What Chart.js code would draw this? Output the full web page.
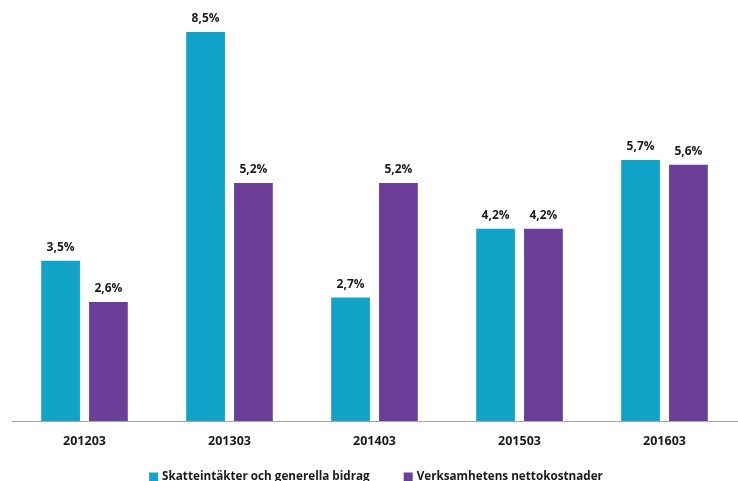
<!DOCTYPE html>
<html>
<head>
<meta charset="utf-8">
<script src="https://cdn.jsdelivr.net/npm/chart.js@4/dist/chart.umd.min.js"></script>
<style>
  html, body { margin: 0; padding: 0; background: #fff; overflow: hidden; }
</style>
</head>
<body>
<canvas id="chart" width="738" height="481"></canvas>
<script>
// Periods and yearly change (%) for each series
const periods = ["201203", "201303", "201403", "201503", "201603"];
const skatteintakter = [3.5, 8.5, 2.7, 4.2, 5.7];
const nettokostnader = [2.6, 5.2, 5.2, 4.2, 5.6];

const FONT = "'Open Sans', sans-serif";
const TEXT = "#1a1a1a";

// Writes the percentage above every bar, Swedish decimal comma
const valueLabels = {
  id: "valueLabels",
  afterDatasetsDraw(chart) {
    const ctx = chart.ctx;
    ctx.save();
    ctx.font = "bold 12px " + FONT;
    ctx.fillStyle = TEXT;
    ctx.textAlign = "center";
    ctx.textBaseline = "bottom";
    chart.data.datasets.forEach((ds, i) => {
      chart.getDatasetMeta(i).data.forEach((bar, j) => {
        const txt = ds.data[j].toFixed(1).replace(".", ",") + "%";
        ctx.fillText(txt, bar.x, bar.y - 7);
      });
    });
    ctx.restore();
  }
};

// Legend along the bottom edge, partly running off the canvas
const bottomLegend = {
  id: "bottomLegend",
  afterDraw(chart) {
    const ctx = chart.ctx;
    const box = 9, gapText = 4, gapItem = 34;
    const y = 477;
    ctx.save();
    ctx.font = "bold 11.7px " + FONT;
    ctx.textBaseline = "middle";
    const items = chart.data.datasets.map(ds => ({
      label: ds.label,
      color: ds.backgroundColor,
      w: box + gapText + ctx.measureText(ds.label).width,
    }));
    const total = items.reduce((s, it) => s + it.w, 0) + gapItem * (items.length - 1);
    let x = 376 - total / 2;
    items.forEach(it => {
      ctx.fillStyle = it.color;
      ctx.fillRect(x, y - box / 2, box, box);
      ctx.fillStyle = TEXT;
      ctx.fillText(it.label, x + box + gapText, y);
      x += it.w + gapItem;
    });
    ctx.restore();
  }
};

new Chart(document.getElementById("chart"), {
  type: "bar",
  data: {
    labels: periods,
    datasets: [
      {
        label: "Skatteintäkter och generella bidrag",
        data: skatteintakter,
        backgroundColor: "#12a4c8",
        barPercentage: 0.81,
        categoryPercentage: 0.66,
      },
      {
        label: "Verksamhetens nettokostnader",
        data: nettokostnader,
        backgroundColor: "#6b3f99",
        barPercentage: 0.81,
        categoryPercentage: 0.66,
      },
    ],
  },
  options: {
    responsive: false,
    animation: false,
    layout: { padding: { top: 9, left: 12, right: 1, bottom: 27 } },
    plugins: {
      tooltip: { enabled: false },
      legend: { display: false },
    },
    scales: {
      x: {
        grid: { display: false },
        border: { color: "#a6a6a6", width: 1 },
        ticks: {
          color: TEXT,
          padding: 5,
          font: { family: FONT, size: 12.5, weight: "bold" },
        },
      },
      y: {
        display: false,
        min: 0,
        max: 9,
      },
    },
  },
  plugins: [valueLabels, bottomLegend],
});
</script>
</body>
</html>
